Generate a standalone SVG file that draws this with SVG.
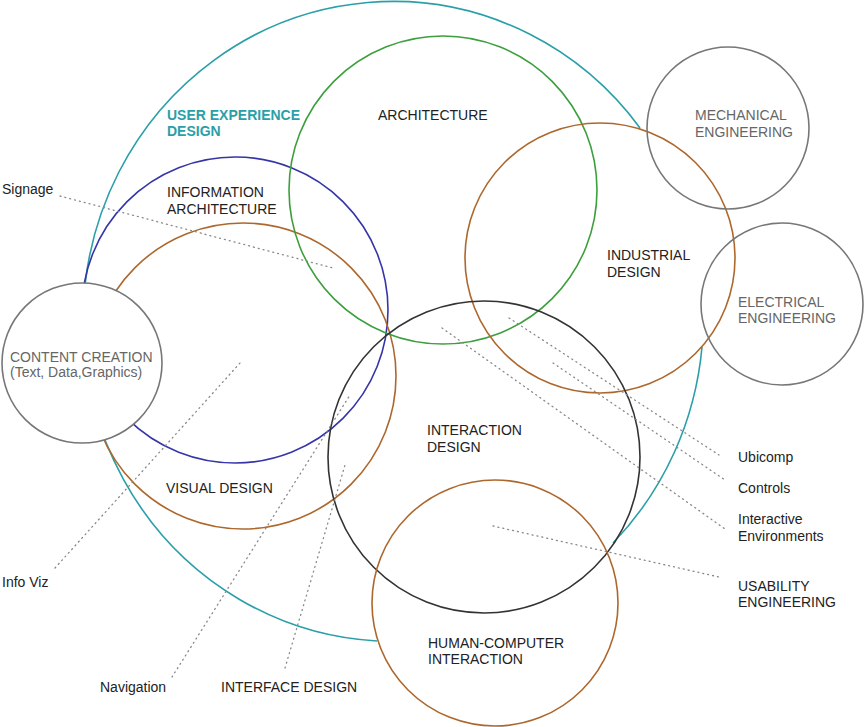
<svg xmlns="http://www.w3.org/2000/svg" width="864" height="727" viewBox="0 0 864 727">
<style>
text{font-family:"Liberation Sans",Arial,sans-serif;font-size:14px;fill:#222}
.g{fill:#666}
.ux{fill:#2A9FA8;font-weight:bold}
.c{fill:none;stroke-width:1.6}
.dot{fill:none;stroke:#888;stroke-width:1.3;stroke-dasharray:1 4;stroke-linecap:round}
</style>
<rect width="864" height="727" fill="#fff"/>
<g id="ux-design">
<path class="c" stroke="#2A9FA8" d="M 377 641 A 310 320 0 1 1 640 128"/>
<path class="c" stroke="#2A9FA8" d="M 702 347 A 310 320 0 0 1 613 543"/>
<text class="ux" x="167" y="120">USER EXPERIENCE</text>
<text class="ux" x="167" y="136">DESIGN</text>
</g>
<g id="information-architecture">
<circle class="c" stroke="#3535A8" cx="235" cy="310" r="153"/>
<text x="167" y="197">INFORMATION</text>
<text x="167" y="214">ARCHITECTURE</text>
</g>
<g id="visual-design">
<circle class="c" stroke="#AD672C" cx="243" cy="376" r="153"/>
<text x="166" y="493">VISUAL DESIGN</text>
</g>
<g id="architecture">
<circle class="c" stroke="#3C9F3C" cx="443" cy="190" r="154"/>
<text x="378" y="120">ARCHITECTURE</text>
</g>
<g id="industrial-design">
<circle class="c" stroke="#AD672C" cx="600" cy="258" r="135"/>
<text x="607" y="260">INDUSTRIAL</text>
<text x="607" y="277">DESIGN</text>
</g>
<g id="interaction-design">
<circle class="c" stroke="#333" cx="484" cy="457" r="156"/>
<text x="427" y="435">INTERACTION</text>
<text x="427" y="452">DESIGN</text>
</g>
<g id="hci">
<circle class="c" stroke="#AD672C" cx="495" cy="603" r="123"/>
<text x="428" y="648">HUMAN-COMPUTER</text>
<text x="428" y="664">INTERACTION</text>
</g>
<g id="mechanical-engineering">
<circle class="c" stroke="#777" cx="728" cy="128" r="81"/>
<text class="g" x="695" y="120">MECHANICAL</text>
<text class="g" x="695" y="137">ENGINEERING</text>
</g>
<g id="electrical-engineering">
<circle class="c" stroke="#777" cx="782" cy="304" r="81"/>
<text class="g" x="738" y="307">ELECTRICAL</text>
<text class="g" x="738" y="323">ENGINEERING</text>
</g>
<g id="content-creation">
<circle cx="82" cy="363" r="80" fill="#fff" stroke="#777" stroke-width="1.6"/>
<text class="g" x="10" y="362">CONTENT CREATION</text>
<text class="g" x="10" y="377">(Text, Data,Graphics)</text>
</g>
<g id="connectors">
<line class="dot" x1="60" y1="196" x2="333" y2="268"/>
<line class="dot" x1="55" y1="568" x2="240" y2="363"/>
<line class="dot" x1="172" y1="677" x2="350" y2="395"/>
<line class="dot" x1="285" y1="668" x2="345" y2="465"/>
<line class="dot" x1="509" y1="318" x2="719" y2="455"/>
<line class="dot" x1="553" y1="363" x2="725" y2="480"/>
<line class="dot" x1="442" y1="328" x2="725" y2="529"/>
<line class="dot" x1="493" y1="526" x2="719" y2="577"/>
</g>
<g id="labels">
<text x="2" y="194">Signage</text>
<text x="2" y="587">Info Viz</text>
<text x="100" y="692">Navigation</text>
<text x="221" y="692">INTERFACE DESIGN</text>
<text x="738" y="462">Ubicomp</text>
<text x="738" y="493">Controls</text>
<text x="738" y="524">Interactive</text>
<text x="738" y="541">Environments</text>
<text x="738" y="591">USABILITY</text>
<text x="738" y="607">ENGINEERING</text>
</g>
</svg>
